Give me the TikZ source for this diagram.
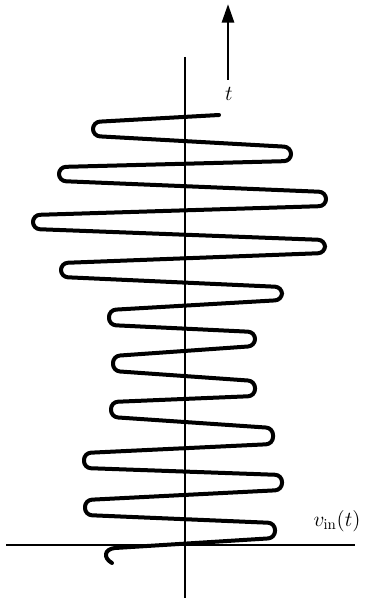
\documentclass[tikz,border=0pt]{standalone}
\usepackage{fix-cm}
\usetikzlibrary{arrows.meta}

\begin{document}
\begin{tikzpicture}[x=0.75pt, y=-0.75pt,
    axis/.style={line width=0.8pt},
    wave/.style={line width=3pt, line cap=round, line join=round, rounded corners=5.2pt},
    lbl/.style={font=\fontsize{16}{19}\selectfont, inner sep=0pt}]
  \useasboundingbox (0,0) rectangle (370,598);
  % axes
  \coordinate (vtop) at (185,57);
  \coordinate (vbot) at (185,598);
  \coordinate (hleft) at (6,545);
  \coordinate (hright) at (355,545);
  \draw[axis] (vtop) -- (vbot);
  \draw[axis] (hleft) -- (hright);
  % time arrow
  \coordinate (tfoot) at (228,80);
  \coordinate (ttip) at (228,4);
  \draw[line width=2.2pt, -{Triangle[length=14pt,width=9pt]}] (tfoot) -- (ttip);
  \node[lbl] (tlab) at (229,94) {$t$};
  \node[lbl] (vin) at (337,521) {$v_{\mathrm{in}}(t)$};
  % input signal, time running upwards
  \draw[wave] (219,115)
    \foreach \xx/\ya/\yb in {93/122/136, 291/147/161, 59/167/181, 326/192/206,
                             33/215/229, 325/240/253, 61/263/277, 282/287/300,
                             109/310/325, 255/332/346, 113/356/371, 255/381/396,
                             111/402/417, 273/428/444, 84/453/468, 282/475/490,
                             85/500/515, 275/523/538}
    { -- (\xx,\ya) -- (\xx,\yb) } -- (115,548);
  \draw[wave] (115,548) .. controls (104,549) and (103,558) .. (112,563);
\end{tikzpicture}
\end{document}
